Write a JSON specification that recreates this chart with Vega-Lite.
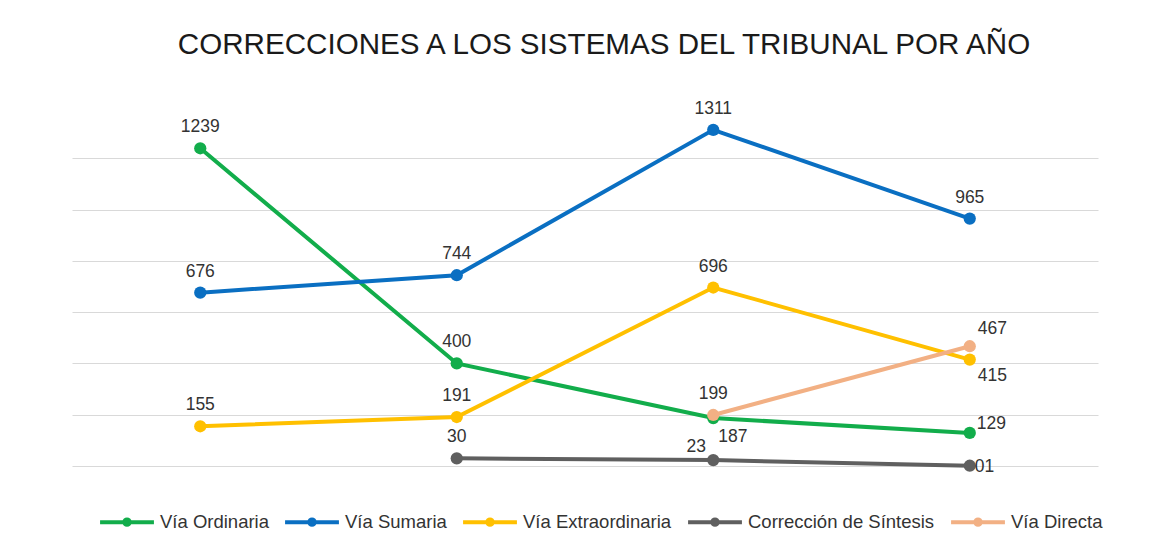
{
  "$schema": "https://vega.github.io/schema/vega-lite/v6.json",
  "width": 1026,
  "height": 359,
  "padding": {"left": 72, "right": 55, "top": 30, "bottom": 0},
  "background": "white",
  "config": {
    "view": {"stroke": null},
    "font": "Liberation Sans"
  },
  "title": {
    "text": "CORRECCIONES A LOS SISTEMAS DEL TRIBUNAL POR AÑO",
    "font": "Liberation Sans",
    "fontSize": 29.6,
    "fontWeight": "normal",
    "color": "#1a1a1a",
    "anchor": "middle",
    "dx": 19,
    "offset": 39
  },
  "data": {
    "values": [
      {"periodo": "1", "serie": "Vía Ordinaria", "valor": 1239, "etiqueta": "1239"},
      {"periodo": "2", "serie": "Vía Ordinaria", "valor": 400, "etiqueta": "400"},
      {"periodo": "3", "serie": "Vía Ordinaria", "valor": 187, "etiqueta": "187"},
      {"periodo": "4", "serie": "Vía Ordinaria", "valor": 129, "etiqueta": "129"},
      {"periodo": "1", "serie": "Vía Sumaria", "valor": 676, "etiqueta": "676"},
      {"periodo": "2", "serie": "Vía Sumaria", "valor": 744, "etiqueta": "744"},
      {"periodo": "3", "serie": "Vía Sumaria", "valor": 1311, "etiqueta": "1311"},
      {"periodo": "4", "serie": "Vía Sumaria", "valor": 965, "etiqueta": "965"},
      {"periodo": "1", "serie": "Vía Extraordinaria", "valor": 155, "etiqueta": "155"},
      {"periodo": "2", "serie": "Vía Extraordinaria", "valor": 191, "etiqueta": "191"},
      {"periodo": "3", "serie": "Vía Extraordinaria", "valor": 696, "etiqueta": "696"},
      {"periodo": "4", "serie": "Vía Extraordinaria", "valor": 415, "etiqueta": "415"},
      {"periodo": "2", "serie": "Corrección de Síntesis", "valor": 30, "etiqueta": "30"},
      {"periodo": "3", "serie": "Corrección de Síntesis", "valor": 23, "etiqueta": "23"},
      {"periodo": "4", "serie": "Corrección de Síntesis", "valor": 1, "etiqueta": "01"},
      {"periodo": "3", "serie": "Vía Directa", "valor": 199, "etiqueta": "199"},
      {"periodo": "4", "serie": "Vía Directa", "valor": 467, "etiqueta": "467"}
    ]
  },
  "encoding": {
    "x": {"field": "periodo", "type": "ordinal", "scale": {"type": "point", "padding": 0.5, "domain": ["1", "2", "3", "4"]}, "axis": null},
    "y": {
      "field": "valor", "type": "quantitative",
      "scale": {"domain": [0, 1400], "nice": false},
      "axis": {"values": [0, 200, 400, 600, 800, 1000, 1200], "labels": false, "ticks": false, "domain": false, "title": null, "gridColor": "#d9d9d9", "gridWidth": 1}
    }
  },
  "layer": [
    {
      "mark": {"type": "line", "strokeWidth": 4},
      "encoding": {
        "color": {
          "field": "serie", "type": "nominal",
          "scale": {
            "domain": ["Vía Ordinaria", "Vía Sumaria", "Vía Extraordinaria", "Corrección de Síntesis", "Vía Directa"],
            "range": ["#12AD4B", "#0A6FC2", "#FFC000", "#5f5f5f", "#F2B084"]
          },
          "legend": {
            "orient": "none",
            "direction": "horizontal",
            "legendX": 26,
            "legendY": 386,
            "title": null,
            "symbolType": "M-1,0H1M-0.1,0A0.1,0.1 0 1,0 0.1,0A0.1,0.1 0 1,0 -0.1,0",
            "symbolSize": 2900,
            "symbolStrokeWidth": 4,
            "labelFont": "Liberation Sans",
            "labelFontSize": 18.5,
            "labelColor": "#333333",
            "labelOffset": 4,
            "labelLimit": 400,
            "columnPadding": 8
          }
        }
      }
    },
    {
      "mark": {"type": "point", "filled": true, "size": 150, "opacity": 1},
      "encoding": {"color": {"field": "serie", "type": "nominal", "legend": null}}
    },
    {
      "transform": [{"filter": "!((datum.serie == 'Vía Ordinaria' && (datum.periodo == '3' || datum.periodo == '4')) || (datum.serie == 'Corrección de Síntesis' && (datum.periodo == '3' || datum.periodo == '4')) || (datum.periodo == '4' && (datum.serie == 'Vía Extraordinaria' || datum.serie == 'Vía Directa')))"}],
      "mark": {"type": "text", "dy": -21, "fontSize": 17.5, "font": "Liberation Sans", "color": "#333333"},
      "encoding": {"text": {"field": "etiqueta"}}
    },
    {
      "transform": [{"filter": "datum.serie == 'Vía Ordinaria' && datum.periodo == '3'"}],
      "mark": {"type": "text", "align": "left", "dx": 5, "dy": 19, "fontSize": 17.5, "font": "Liberation Sans", "color": "#333333"},
      "encoding": {"text": {"field": "etiqueta"}}
    },
    {
      "transform": [{"filter": "datum.serie == 'Corrección de Síntesis' && datum.periodo == '3'"}],
      "mark": {"type": "text", "dx": -17, "dy": -13, "fontSize": 17.5, "font": "Liberation Sans", "color": "#333333"},
      "encoding": {"text": {"field": "etiqueta"}}
    },
    {
      "transform": [{"filter": "datum.serie == 'Vía Extraordinaria' && datum.periodo == '4'"}],
      "mark": {"type": "text", "align": "left", "dx": 8, "dy": 16, "fontSize": 17.5, "font": "Liberation Sans", "color": "#333333"},
      "encoding": {"text": {"field": "etiqueta"}}
    },
    {
      "transform": [{"filter": "datum.serie == 'Vía Directa' && datum.periodo == '4'"}],
      "mark": {"type": "text", "align": "left", "dx": 8, "dy": -17, "fontSize": 17.5, "font": "Liberation Sans", "color": "#333333"},
      "encoding": {"text": {"field": "etiqueta"}}
    },
    {
      "transform": [{"filter": "datum.serie == 'Vía Ordinaria' && datum.periodo == '4'"}],
      "mark": {"type": "text", "align": "left", "dx": 7, "dy": -9, "fontSize": 17.5, "font": "Liberation Sans", "color": "#333333"},
      "encoding": {"text": {"field": "etiqueta"}}
    },
    {
      "transform": [{"filter": "datum.serie == 'Corrección de Síntesis' && datum.periodo == '4'"}],
      "mark": {"type": "text", "align": "left", "dx": 5, "dy": 1, "fontSize": 17.5, "font": "Liberation Sans", "color": "#333333"},
      "encoding": {"text": {"field": "etiqueta"}}
    }
  ]
}
